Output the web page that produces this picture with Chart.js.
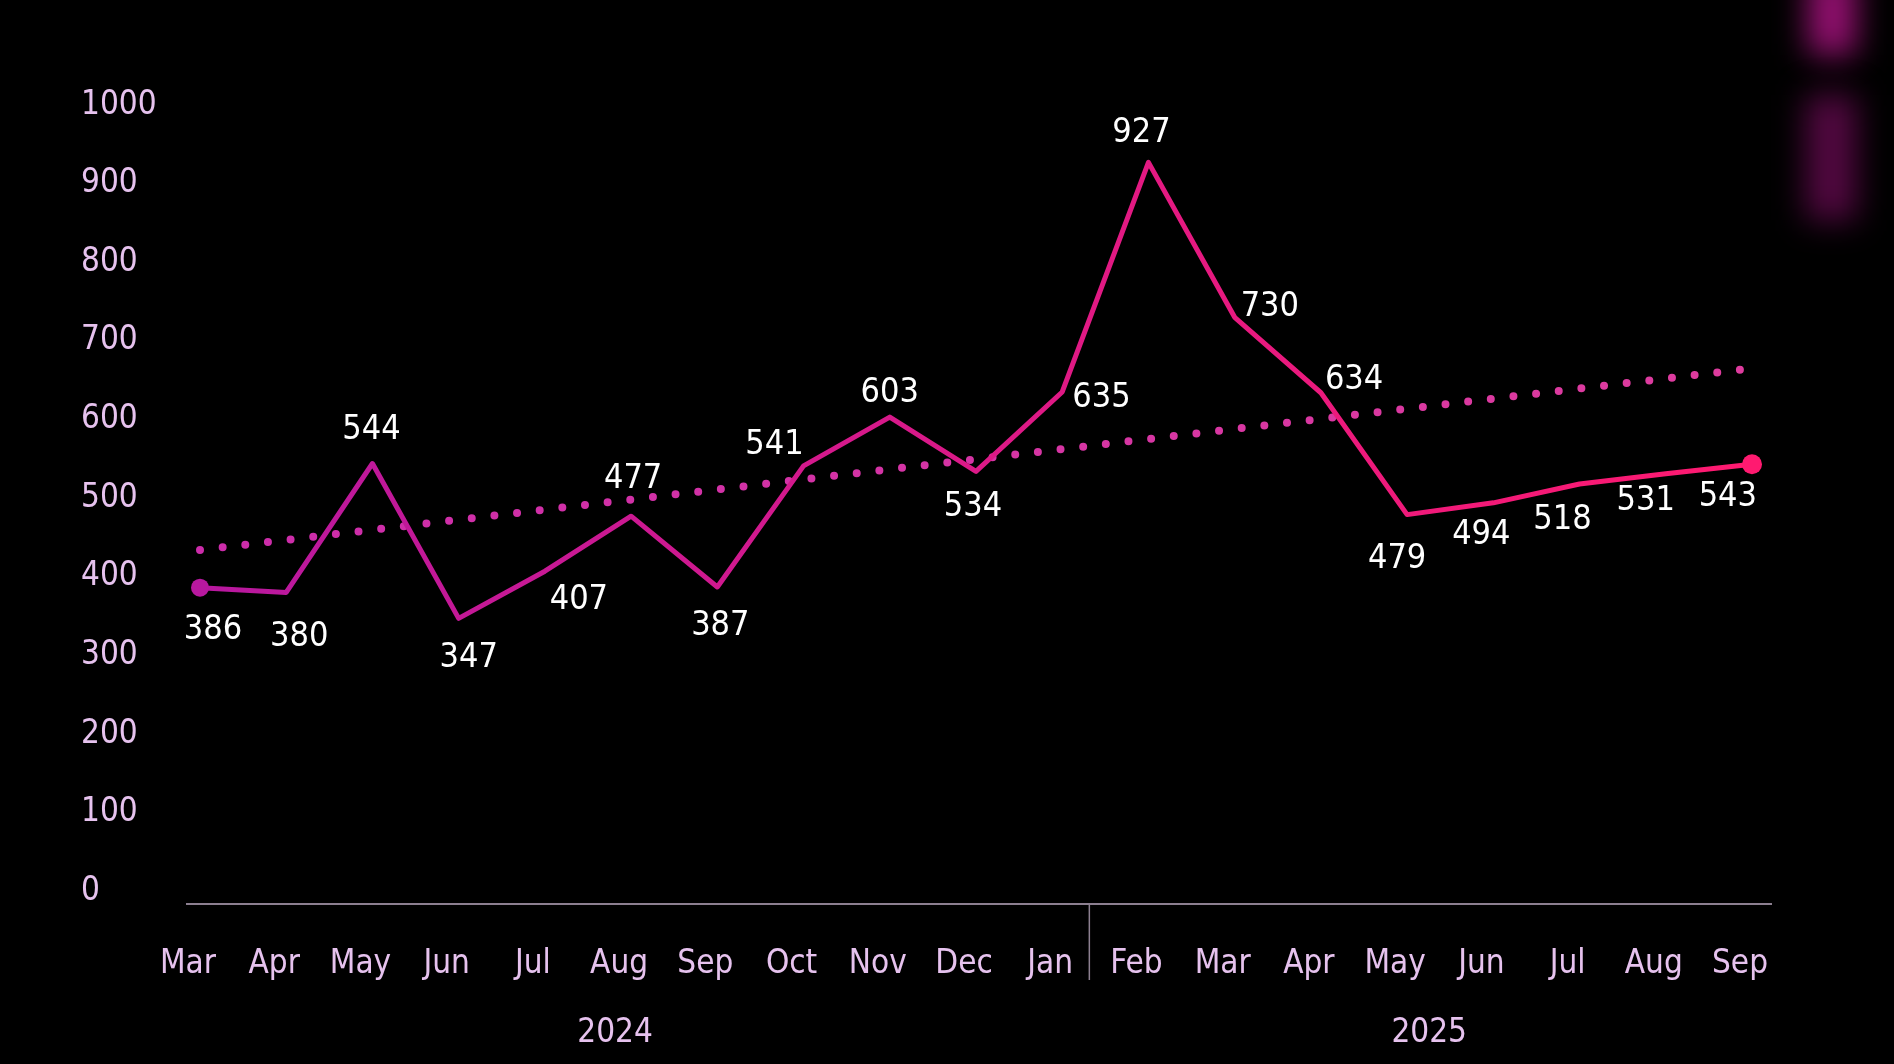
<!DOCTYPE html>
<html>
<head>
<meta charset="utf-8">
<script src="https://cdn.jsdelivr.net/npm/chart.js@4.4.1/dist/chart.umd.min.js"></script>
<style>
  html, body { margin: 0; padding: 0; background: #000; }
  #wrap { width: 1894px; height: 1064px; position: relative; }
</style>
</head>
<body>
<div id="wrap"><canvas id="c"></canvas></div>
<script>
// ---- data ----
const months = ['Mar','Apr','May','Jun','Jul','Aug','Sep','Oct','Nov','Dec','Jan','Feb','Mar','Apr','May','Jun','Jul','Aug','Sep'];
const yearGroups = ['2024', '2025'];
const yearFrom = [0, 11];
const yearTo = [10, 18];
const values = [386, 380, 544, 347, 407, 477, 387, 541, 603, 534, 635, 927, 730, 634, 479, 494, 518, 531, 543];
const trendValues = [434, null, null, null, null, null, null, null, null, null, null, null, null, null, null, null, null, null, 665];
const yTicks = [0, 100, 200, 300, 400, 500, 600, 700, 800, 900, 1000];

// ---- label placement (style) ----
const labelDx = [13, 13, -1, 10, 34, 2, 3, -29, 0, -3, 10, -7, 6, 4, -10, -12, -17, -20, 5];
const labelDy = [42, 45, -33, 40, 29, -37, 39, -21, -24, 36, 6, -29, -10, -13, 45, 32, 36, 27, 33];
const labelAlign = ['center','center','center','center','center','center','center','center','center','center','left','center','left','left','center','center','center','center','right'];
const yearDx = [-4, -9];
const SEP_DX = -4;

const FONT = "'Noto Sans Condensed', 'DejaVu Sans Condensed', 'Liberation Sans', sans-serif";
const AXIS_COLOR = '#e6c2ee';
const LINE_COLOR = '#8c7f90';
const LABEL_OFFSET = -12;

function hGrad(chart, c0, c1) {
  const a = chart.chartArea;
  if (!a) return c1;
  const g = chart.ctx.createLinearGradient(a.left, 0, a.right, 0);
  g.addColorStop(0, c0);
  g.addColorStop(1, c1);
  return g;
}

const decor = {
  id: 'decor',
  beforeDraw(chart) {
    const ctx = chart.ctx;
    ctx.save();
    ctx.fillStyle = '#000';
    ctx.fillRect(0, 0, chart.width, chart.height);
    ctx.filter = 'blur(16px)';
    ctx.fillStyle = 'rgba(165,18,125,0.9)';
    ctx.fillRect(1808, -30, 48, 85);
    ctx.fillStyle = 'rgba(105,10,82,0.8)';
    ctx.fillRect(1806, 95, 50, 125);
    ctx.restore();
  },
  afterDatasetsDraw(chart) {
    const ctx = chart.ctx;
    const meta = chart.getDatasetMeta(1);
    ctx.save();
    ctx.font = '34px ' + FONT;
    ctx.fillStyle = '#ffffff';
    ctx.textBaseline = 'middle';
    meta.data.forEach((el, i) => {
      ctx.textAlign = labelAlign[i];
      ctx.fillText(String(values[i]), el.x + labelDx[i], el.y + labelDy[i]);
    });
    ctx.restore();
  },
  afterDraw(chart) {
    const ctx = chart.ctx;
    const a = chart.chartArea;
    const xs = chart.scales.x;
    ctx.save();
    // axis line
    ctx.strokeStyle = LINE_COLOR;
    ctx.lineWidth = 2;
    ctx.beginPath();
    ctx.moveTo(a.left - 14, a.bottom + 1);
    ctx.lineTo(a.right + 20, a.bottom + 1);
    ctx.stroke();
    // year separator
    const sepX = (xs.getPixelForValue(10) + xs.getPixelForValue(11)) / 2 + LABEL_OFFSET + SEP_DX;
    ctx.lineWidth = 1.5;
    ctx.beginPath();
    ctx.moveTo(sepX, a.bottom);
    ctx.lineTo(sepX, a.bottom + 77);
    ctx.stroke();
    // year labels
    ctx.font = '33px ' + FONT;
    ctx.fillStyle = AXIS_COLOR;
    ctx.textAlign = 'center';
    ctx.textBaseline = 'middle';
    yearGroups.forEach((y, i) => {
      const x = (xs.getPixelForValue(yearFrom[i]) + xs.getPixelForValue(yearTo[i])) / 2 + LABEL_OFFSET + yearDx[i];
      ctx.fillText(y, x, a.bottom + 130);
    });
    ctx.restore();
  }
};

new Chart(document.getElementById('c'), {
  type: 'line',
  data: {
    labels: months,
    datasets: [
      {
        data: trendValues,
        spanGaps: true,
        borderColor: (c) => hGrad(c.chart, '#cc2caa', '#de3c9e'),
        borderWidth: 8,
        borderDash: [0, 22.8],
        borderCapStyle: 'round',
        pointRadius: 0,
        tension: 0,
        order: 2
      },
      {
        data: values,
        borderColor: (c) => hGrad(c.chart, '#b8189f', '#ff1a70'),
        borderWidth: 5,
        borderJoinStyle: 'round',
        tension: 0,
        pointRadius: (c) => c.dataIndex === 0 ? 9 : (c.dataIndex === values.length - 1 ? 10 : 0),
        pointBackgroundColor: (c) => c.dataIndex === 0 ? '#b8189f' : '#ff1a70',
        pointBorderWidth: 0,
        order: 1
      }
    ]
  },
  options: {
    responsive: true,
    maintainAspectRatio: false,
    animation: false,
    devicePixelRatio: 1,
    layout: { padding: { left: 81, right: 142, top: 105, bottom: 0 } },
    plugins: { legend: { display: false }, tooltip: { enabled: false } },
    scales: {
      x: {
        offset: false,
        grid: { display: false },
        border: { display: false },
        ticks: {
          color: AXIS_COLOR,
          font: { family: FONT, size: 33 },
          padding: 34,
          labelOffset: LABEL_OFFSET,
          maxRotation: 0,
          autoSkip: false
        },
        afterFit(s) { s.height = 161; }
      },
      y: {
        min: -15,
        max: 1000,
        grid: { display: false },
        border: { display: false },
        afterBuildTicks(s) { s.ticks = yTicks.map(v => ({ value: v })); },
        ticks: {
          color: AXIS_COLOR,
          font: { family: FONT, size: 33 },
          crossAlign: 'far',
          padding: 0,
          callback: (v) => String(v)
        },
        afterFit(s) { s.width = 119; }
      }
    }
  },
  plugins: [decor]
});
</script>
</body>
</html>
